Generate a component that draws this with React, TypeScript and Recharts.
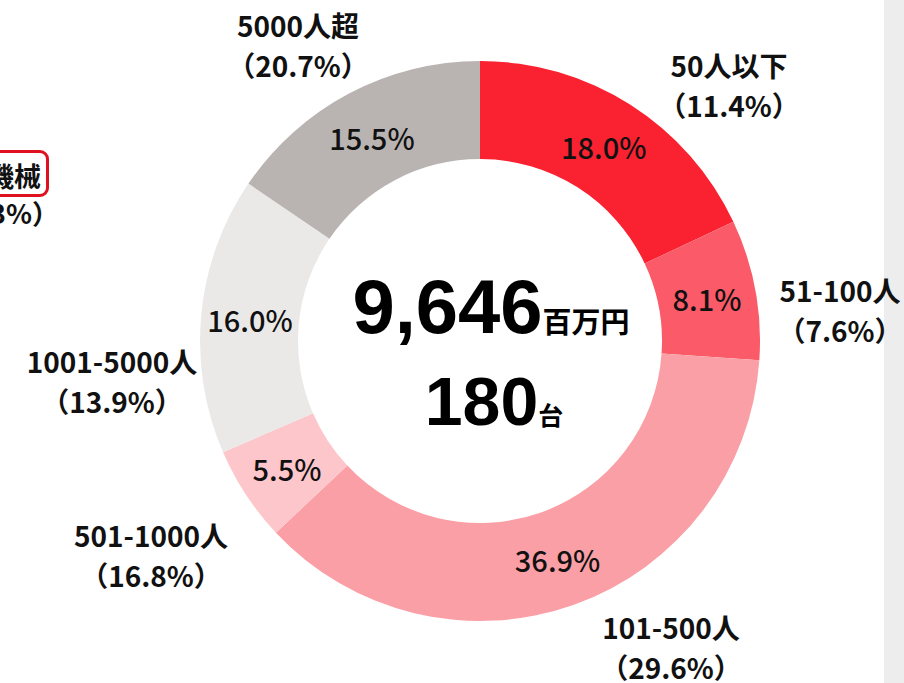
import React from "react";
import { PieChart, Pie, Cell } from "recharts";

// 従業員規模別の構成比
const categories = ["50人以下", "51-100人", "101-500人", "501-1000人", "1001-5000人", "5000人超"];
const amountShare = [18.0, 8.1, 36.9, 5.5, 16.0, 15.5]; // ring slices
const unitShare = [11.4, 7.6, 29.6, 16.8, 13.9, 20.7]; // shown in parentheses
const totalAmount = "9,646";
const totalUnits = "180";

const COLORS = ["#fa2231", "#fb5a68", "#fb9fa6", "#fdc6cb", "#ebe9e8", "#b9b4b1"];

// outer label block offsets from centre (first line baseline)
const OUTER_POS: [number, number][] = [
  [249, -264],
  [360, -39],
  [191, 298],
  [-329, 206],
  [-368, 32],
  [-182, -304],
];

const FONT = '"Noto Sans CJK JP", "Noto Sans", sans-serif';
const NUM_FONT = '"Liberation Sans", Arial, sans-serif';
const RADIAN = Math.PI / 180;

const data = categories.map((name, i) => ({
  name,
  value: amountShare[i],
  unit: unitShare[i],
}));

function renderCenter(cx: number, cy: number) {
  return (
    <g fontFamily={FONT} fill="#000" fontWeight={700}>
      <text x={cx + 11} y={cy - 8} textAnchor="middle">
        <tspan fontFamily={NUM_FONT} fontSize={76}>{totalAmount}</tspan>
        <tspan fontSize={29}>百万円</tspan>
      </text>
      <text x={cx + 14} y={cy + 84} textAnchor="middle">
        <tspan fontFamily={NUM_FONT} fontSize={68}>{totalUnits}</tspan>
        <tspan fontSize={25}>台</tspan>
      </text>
    </g>
  );
}

function renderLabel(props: any) {
  const { cx, cy, midAngle, innerRadius, outerRadius, index } = props;
  const r = (innerRadius + outerRadius) / 2;
  const x = cx + r * Math.cos(-midAngle * RADIAN);
  const y = cy + r * Math.sin(-midAngle * RADIAN);
  const [dx, dy] = OUTER_POS[index];
  const item = data[index];
  return (
    <g>
      {index === 0 && renderCenter(cx, cy)}
      <text
        x={x}
        y={y}
        textAnchor="middle"
        dominantBaseline="central"
        fontFamily={FONT}
        fontSize={29}
        fontWeight={500}
        fill="#111"
      >
        {item.value.toFixed(1)}%
      </text>
      <text x={cx + dx} y={cy + dy} textAnchor="middle" fontFamily={FONT} fontSize={28} fontWeight={700} fill="#111">
        {item.name}
      </text>
      <text x={cx + dx} y={cy + dy + 40} textAnchor="middle" fontFamily={FONT} fontSize={28} fontWeight={700} fill="#111">
        （{item.unit.toFixed(1)}%）
      </text>
    </g>
  );
}

export default function App() {
  return (
    <div
      style={{
        position: "absolute",
        left: 0,
        top: 0,
        width: 904,
        height: 683,
        overflow: "hidden",
        background: "#fff",
        fontFamily: FONT,
      }}
    >
      <div style={{ position: "absolute", left: 884, top: 0, width: 20, height: 683, background: "#eeeded" }} />
      <div
        style={{
          position: "absolute",
          left: -40,
          top: 150,
          width: 89,
          height: 47,
          border: "3px solid #e0111f",
          borderRadius: 9,
          boxSizing: "border-box",
        }}
      />
      <div
        style={{
          position: "absolute",
          right: 863,
          top: 159,
          fontSize: 27,
          fontWeight: 700,
          color: "#111",
          whiteSpace: "nowrap",
          lineHeight: "34px",
        }}
      >
        機械
      </div>
      <div
        style={{
          position: "absolute",
          right: 845,
          top: 196,
          fontSize: 27,
          fontWeight: 700,
          color: "#111",
          whiteSpace: "nowrap",
          lineHeight: "34px",
        }}
      >
        （10.3%）
      </div>
      <PieChart width={904} height={683} margin={{ top: 0, right: 0, bottom: 0, left: 0 }}>
        <Pie
          data={data}
          dataKey="value"
          nameKey="name"
          cx={480}
          cy={341}
          innerRadius={182}
          outerRadius={280}
          startAngle={90}
          endAngle={-270}
          stroke="none"
          labelLine={false}
          label={renderLabel}
          isAnimationActive={false}
        >
          {data.map((d, i) => (
            <Cell key={d.name} fill={COLORS[i]} />
          ))}
        </Pie>
      </PieChart>
    </div>
  );
}
